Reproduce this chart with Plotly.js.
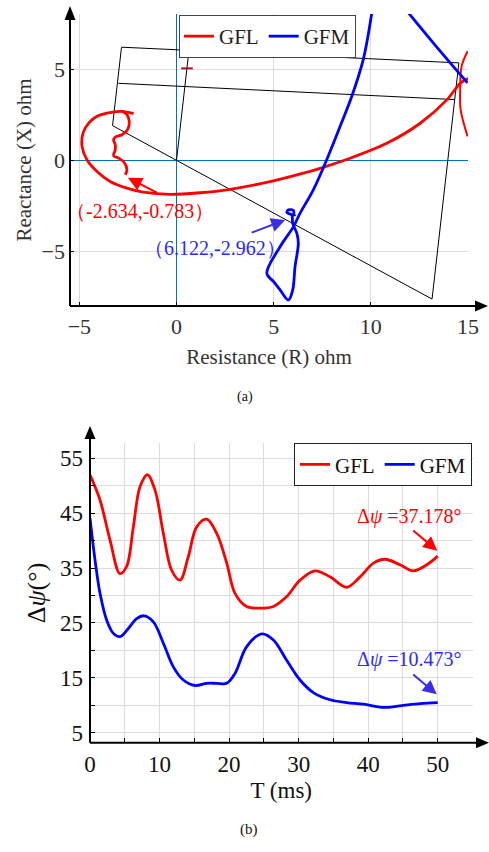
<!DOCTYPE html>
<html><head><meta charset="utf-8">
<script src="https://cdn.plot.ly/plotly-3.0.1.min.js"></script>
<style>html,body{margin:0;padding:0;background:#fff}#chart{width:489px;height:852px}</style>
</head><body><div id="chart"></div>
<script>
// ---------- (a) impedance trajectories ----------
var gflMainR = [15,14.6,13.91,12.54,10.82,8.93,7.39,6.53,4.82,2.76,1.2,-0.32,-1.7,-2.55,-3.41,-4.09,-4.61,-4.86,-4.81,-4.52,-4.09,-3.58,-2.81,-2.21];
var gflMainX = [4.5,4.23,3.32,2.04,0.94,0.12,-0.43,-0.7,-1.16,-1.58,-1.77,-1.86,-1.74,-1.52,-1.15,-0.6,0.04,0.77,1.5,2.05,2.42,2.6,2.69,2.57];
var gflWaveR = [-2.81,-2.55,-2.43,-2.5,-2.81,-3.15,-3.24,-3.15,-3.15,-3.24,-2.98,-2.69,-2.55,-2.634];
var gflWaveX = [2.71,2.51,2.14,1.72,1.41,1.28,1.14,0.86,0.59,0.26,0.13,-0.11,-0.51,-0.783];
var gflArcR = [14.98,14.67,14.6,14.62,14.98];
var gflArcX = [5.99,5.16,3.9,2.79,1.32];
var gfmMainR = [10.05,9.61,9.02,8.42,7.73,7.04,6.36,6.02,5.33,4.65,5.0,5.33,5.76,5.98,6.1,6.27,6.19,5.98,5.93,5.68,5.76,6.02,6.05,6.122];
var gfmMainX = [8.1,5.53,3.52,1.87,0.04,-1.61,-2.89,-3.63,-4.73,-6.19,-6.65,-7.1,-7.65,-7.1,-5.82,-4.54,-3.99,-3.44,-2.98,-2.86,-2.71,-2.75,-2.98,-2.962];
var gfmArcR = [11.93,13.21,14.24,14.98];
var gfmArcX = [8.1,6.45,5.16,4.25];
// relay characteristic (quadrilateral)
var charR = [-3.29,-2.83,14.53,13.15,-3.29];
var charX = [1.91,6.21,5.35,-7.6,1.91];
var innerR = [-2.99,14.3];
var innerX = [4.23,3.34];
var lineR = [0,0.64];
var lineX = [0,6.03];
var markR = [0.24,0.84];
var markX = [5.05,5.05];
var xTicksA = [-5,0,5,10,15];
var yTicksA = [-5,0,5];
var gflPoint = [-2.634,-0.783];
var gfmPoint = [6.122,-2.962];

// ---------- (b) phase difference ----------
var tGFL = [0,1.44,2.88,4.31,5.27,6.23,7.19,8.25,9.35,10.55,11.74,12.94,14.14,15.34,16.78,18.22,19.66,20.85,22.53,24.45,26.37,28.28,30.2,32.36,34.52,36.91,38.83,40.75,42.43,44.58,46.5,48.42,50];
var dGFL = [52,47.4,40.1,34.0,35.3,42.5,49.8,52.0,49.2,41.3,34.6,32.8,37.1,42.5,43.9,41.3,35.9,30.4,28.0,27.7,28.0,29.8,32.8,34.5,33.4,31.5,33.4,35.9,36.6,35.6,34.5,35.6,37.178];
var tGFM = [0,0.72,1.44,2.4,3.36,4.31,5.51,6.71,7.77,9.11,10.55,11.98,13.42,15.1,16.78,18.22,19.66,20.85,22.53,24.69,26.37,28.28,30.2,32.12,34.52,36.91,39.31,42.19,44.58,47.46,50];
var dGFM = [44.1,36.5,30.4,25.5,23.1,22.5,24.0,25.8,26.3,25.2,21.3,17.0,14.6,13.6,14.0,14.0,14.0,15.8,20.7,23.0,21.9,18.2,14.6,12.3,11.0,10.5,10.2,9.6,9.9,10.3,10.473];
var xTicksB = [0,10,20,30,40,50];
var yTicksB = [5,15,25,35,45,55];

var RED = '#ff0000', BLUE = '#0000ff', FONT = '"Liberation Serif", "Times New Roman", serif';
var W = 489, H = 852;
function px(x){return x/W;} function py(y){return 1-y/H;}
function path(pts){return 'M'+pts.map(function(p){return px(p[0])+','+py(p[1]);}).join('L')+'Z';}

var traces = [
  {x:charR,y:charX,mode:'lines',line:{color:'#000',width:1},showlegend:false,hoverinfo:'skip'},
  {x:innerR,y:innerX,mode:'lines',line:{color:'#000',width:1},showlegend:false,hoverinfo:'skip'},
  {x:lineR,y:lineX,mode:'lines',line:{color:'#000',width:1},showlegend:false,hoverinfo:'skip'},
  {x:markR,y:markX,mode:'lines',line:{color:'#a2142f',width:2},showlegend:false,hoverinfo:'skip'},
  {x:gflMainR,y:gflMainX,mode:'lines',name:'GFL',legendgroup:'a1',line:{color:RED,width:2.8,shape:'spline',smoothing:0.8}},
  {x:gflWaveR,y:gflWaveX,mode:'lines',legendgroup:'a1',showlegend:false,line:{color:RED,width:2.8,shape:'spline'}},
  {x:gflArcR,y:gflArcX,mode:'lines',legendgroup:'a1',showlegend:false,line:{color:RED,width:2,shape:'spline'}},
  {x:gfmMainR,y:gfmMainX,mode:'lines',name:'GFM',legendgroup:'a2',line:{color:BLUE,width:2.8,shape:'spline'}},
  {x:gfmArcR,y:gfmArcX,mode:'lines',legendgroup:'a2',showlegend:false,line:{color:BLUE,width:2.8,shape:'spline'}},
  {x:tGFL,y:dGFL,xaxis:'x2',yaxis:'y2',mode:'lines',name:'GFL',legend:'legend2',line:{color:RED,width:2.8,shape:'spline'}},
  {x:tGFM,y:dGFM,xaxis:'x2',yaxis:'y2',mode:'lines',name:'GFM',legend:'legend2',line:{color:BLUE,width:2.8,shape:'spline'}}
];

var gridC = '#dcdcdc';
var layout = {
  width:W,height:H,margin:{l:0,r:0,t:0,b:0,pad:0},paper_bgcolor:'#fff',plot_bgcolor:'#fff',
  font:{family:FONT,color:'#222'},
  xaxis:{domain:[70/W,468/W],range:[-5.48,15],tickvals:xTicksA,showgrid:true,gridcolor:gridC,
    zeroline:true,zerolinecolor:'#0072bd',zerolinewidth:1,showline:false,ticks:'inside',ticklen:4,tickcolor:'#000',
    tickfont:{size:22,color:'#333',family:FONT},ticklabelstandoff:5,
    title:{text:'Resistance (R) ohm',font:{size:21,color:'#333',family:FONT},standoff:11},anchor:'y'},
  yaxis:{domain:[py(306),py(14)],range:[-7.98,8.03],tickvals:yTicksA,showgrid:true,gridcolor:gridC,
    zeroline:true,zerolinecolor:'#0072bd',zerolinewidth:1,showline:false,ticks:'inside',ticklen:4,tickcolor:'#000',
    tickfont:{size:22,color:'#333',family:FONT},ticklabelstandoff:4,
    title:{text:'Reactance (X) ohm',font:{size:21,color:'#333',family:FONT},standoff:4},anchor:'x'},
  xaxis2:{domain:[90/W,472.5/W],range:[0,55],tickvals:xTicksB,showgrid:true,gridcolor:gridC,zeroline:false,
    ticks:'inside',ticklen:5,tickcolor:'#000',minor:{dtick:5,tick0:0,showgrid:true,gridcolor:gridC,ticks:'inside',ticklen:5,tickcolor:'#000'},
    tickfont:{size:23,color:'#111',family:FONT},ticklabelstandoff:5,
    title:{text:'T (ms)',font:{size:23,color:'#111',family:FONT},standoff:6},anchor:'y2'},
  yaxis2:{domain:[py(742.7),py(443.3)],range:[3.18,57.73],tickvals:yTicksB,showgrid:true,gridcolor:gridC,zeroline:false,
    ticks:'inside',ticklen:5,tickcolor:'#000',minor:{tickvals:[10,20,30,40,50],showgrid:true,gridcolor:gridC,ticks:'inside',ticklen:5,tickcolor:'#000'},
    tickfont:{size:23,color:'#111',family:FONT},ticklabelstandoff:6,
    title:{text:'Δ<i>ψ</i>(°)',font:{size:26,color:'#111',family:FONT},standoff:6},anchor:'x2'},
  legend:{x:179/W,y:py(15),xanchor:'left',yanchor:'top',orientation:'h',bgcolor:'#fff',bordercolor:'#444',borderwidth:1,
    font:{size:21,family:FONT,color:'#222'},itemwidth:30,tracegroupgap:0},
  legend2:{x:294/W,y:py(443.3),xanchor:'left',yanchor:'top',orientation:'h',bgcolor:'#fff',bordercolor:'#222',borderwidth:1,
    font:{size:21,family:FONT,color:'#111'},itemwidth:30},
  shapes:[
    {type:'line',xref:'paper',yref:'paper',x0:px(70),y0:py(306),x1:px(477),y1:py(306),line:{color:'#000',width:2}},
    {type:'line',xref:'paper',yref:'paper',x0:px(70),y0:py(306),x1:px(70),y1:py(18),line:{color:'#000',width:2}},
    {type:'path',xref:'paper',yref:'paper',path:path([[70,6],[64.5,20],[75.5,20]]),fillcolor:'#000',line:{width:0}},
    {type:'path',xref:'paper',yref:'paper',path:path([[488,306],[475,300.5],[475,311.5]]),fillcolor:'#000',line:{width:0}},
    {type:'line',xref:'paper',yref:'paper',x0:px(90),y0:py(742.7),x1:px(478),y1:py(742.7),line:{color:'#000',width:2}},
    {type:'line',xref:'paper',yref:'paper',x0:px(90),y0:py(742.7),x1:px(90),y1:py(436),line:{color:'#000',width:2}},
    {type:'path',xref:'paper',yref:'paper',path:path([[90,426],[84.5,439],[95.5,439]]),fillcolor:'#000',line:{width:0}},
    {type:'path',xref:'paper',yref:'paper',path:path([[489,742.7],[476,737.2],[476,748.2]]),fillcolor:'#000',line:{width:0}}
  ],
  annotations:[
    {xref:'x',yref:'y',x:-1.87,y:-2.75,text:'（'+gflPoint[0].toFixed(3)+','+gflPoint[1].toFixed(3)+'）',showarrow:false,font:{size:20,color:RED,family:FONT}},
    {xref:'x',yref:'y',x:1.97,y:-4.8,text:'（'+gfmPoint[0].toFixed(3)+','+gfmPoint[1].toFixed(3)+'）',showarrow:false,font:{size:20,color:'#2a2aff',family:FONT}},
    {xref:'x',yref:'y',axref:'x',ayref:'y',x:-2.5,y:-0.95,ax:-0.93,ay:-1.8,text:'',showarrow:true,arrowhead:2,arrowsize:1.4,arrowwidth:2,arrowcolor:RED},
    {xref:'x',yref:'y',axref:'x',ayref:'y',x:5.59,y:-3.26,ax:3.79,ay:-3.99,text:'',showarrow:true,arrowhead:2,arrowsize:1.4,arrowwidth:2,arrowcolor:'#3a2ee6'},
    {xref:'x2',yref:'y2',x:45.95,y:44.36,text:'Δ<i>ψ</i> ='+dGFL[dGFL.length-1].toFixed(3)+'°',showarrow:false,font:{size:20,color:RED,family:FONT}},
    {xref:'x2',yref:'y2',x:45.95,y:18.37,text:'Δ<i>ψ</i> ='+dGFM[dGFM.length-1].toFixed(3)+'°',showarrow:false,font:{size:20,color:'#2a2aff',family:FONT}},
    {xref:'x2',yref:'y2',axref:'x2',ayref:'y2',x:49.94,y:38.16,ax:46.26,ay:42.06,text:'',showarrow:true,arrowhead:2,arrowsize:1.4,arrowwidth:2,arrowcolor:RED},
    {xref:'x2',yref:'y2',axref:'x2',ayref:'y2',x:49.86,y:12.0,ax:46.26,ay:15.82,text:'',showarrow:true,arrowhead:2,arrowsize:1.4,arrowwidth:2,arrowcolor:'#3a2ee6'},
    {xref:'paper',yref:'paper',x:px(244.5),y:py(397),text:'(a)',showarrow:false,font:{size:14,color:'#111',family:FONT}},
    {xref:'paper',yref:'paper',x:px(249),y:py(840),text:'(b)',showarrow:false,font:{size:15,color:'#111',family:FONT}}
  ]
};
Plotly.newPlot('chart',traces,layout,{displayModeBar:false,staticPlot:true});
</script></body></html>
